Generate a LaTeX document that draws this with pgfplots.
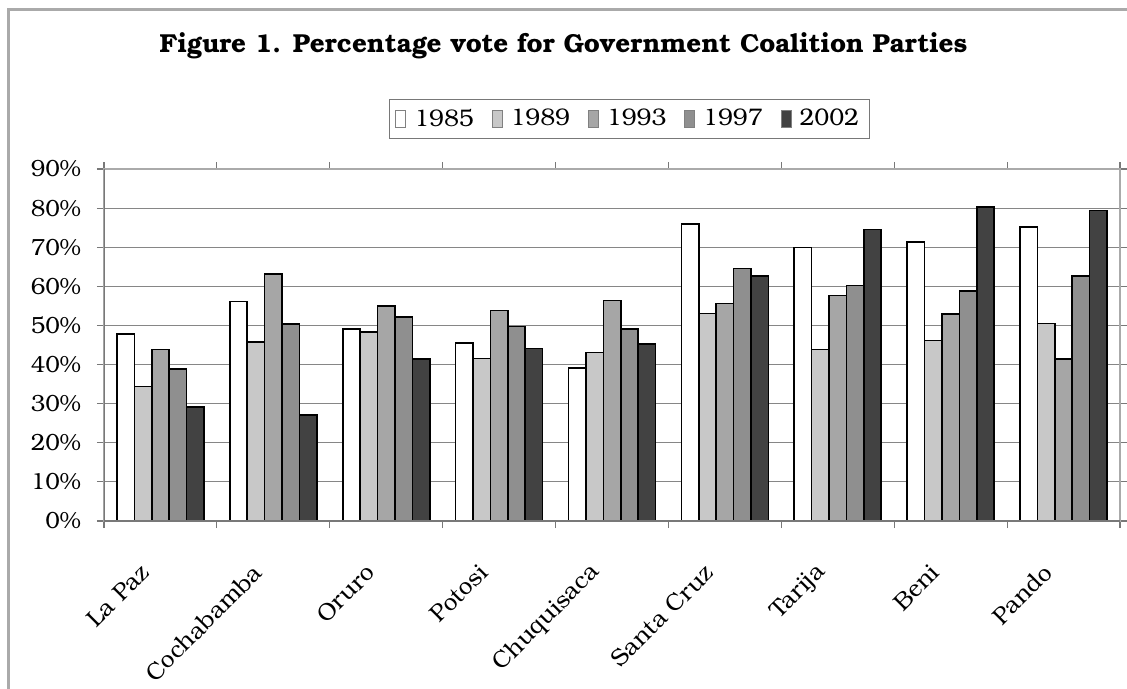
\documentclass[border=0pt]{standalone}
\usepackage{fontspec}
\setmainfont{TeX Gyre Bonum}
\usepackage{pgfplots}
\pgfplotsset{compat=1.18}
\usepackage{pgfplotstable}

\definecolor{cA}{RGB}{255,255,255}
\definecolor{cB}{RGB}{200,200,200}
\definecolor{cC}{RGB}{166,166,166}
\definecolor{cD}{RGB}{143,143,143}
\definecolor{cE}{RGB}{66,66,66}
\definecolor{gridgray}{RGB}{134,134,134}
\definecolor{axisgray}{RGB}{120,120,120}
\definecolor{framegray}{RGB}{170,170,170}

% Share of the vote for the governing coalition, by department and election
\pgfplotstableread{
dept v1985 v1989 v1993 v1997 v2002
0 47.8 34.4 43.9 38.8 29.2
1 56.1 45.8 63.2 50.3 27.1
2 49.1 48.4 55.0 52.1 41.4
3 45.5 41.5 53.8 49.7 44.1
4 39.1 43.1 56.4 49.1 45.3
5 75.9 53.1 55.6 64.6 62.7
6 69.9 43.9 57.7 60.2 74.5
7 71.3 46.2 52.9 58.8 80.3
8 75.2 50.5 41.4 62.7 79.4
}\votes

\begin{document}
\begin{tikzpicture}
% page area; the plot box has its lower left corner at the origin
\useasboundingbox (-52pt,-84pt) rectangle (511.5pt,260.5pt);
% outer chart frame
\draw[framegray, line width=1.2pt] (-47.7pt,-84pt) -- (-47.7pt,255.8pt) -- (511.5pt,255.8pt);
\node[font=\bfseries\fontsize{13}{15}\selectfont] at (229.7pt,237.5pt)
  {Figure 1. Percentage vote for Government Coalition Parties};

\begin{axis}[
  scale only axis, width=508pt, height=176pt,
  ybar=0pt, bar width=8.7pt,
  xmin=-0.5, xmax=8.5, ymin=0, ymax=90,
  xtick={0,...,8},
  xticklabels={La Paz,Cochabamba,Oruro,Potosi,Chuquisaca,Santa Cruz,Tarija,Beni,Pando},
  minor xtick={-0.5,0.5,...,8.5},
  major x tick style={draw=none},
  ytick={0,10,...,90},
  yticklabels={0\%,10\%,20\%,30\%,40\%,50\%,60\%,70\%,80\%,90\%},
  tick align=outside,
  major tick length=3.5pt, minor tick length=3.5pt,
  tick style={axisgray, line width=0.6pt},
  yticklabel style={font=\fontsize{11.7}{13}\selectfont, xshift=-4.5pt},
  xticklabel style={font=\fontsize{12}{14}\selectfont, xshift=-7pt, yshift=-19.5pt,
    rotate=45, anchor=east, inner sep=1pt},
  ymajorgrids,
  major grid style={gridgray, line width=0.6pt},
  axis line style={framegray, line width=0.8pt},
  legend columns=5,
  legend style={at={(0.517,1.142)}, anchor=center, draw=axisgray,
    line width=0.5pt, font=\fontsize{12}{14}\selectfont,
    inner xsep=3pt, inner ysep=2.5pt,
    /tikz/every odd column/.append style={column sep=2pt},
    /tikz/every even column/.append style={column sep=7pt}},
  legend image code/.code={\draw[#1, draw=gray, line width=0.4pt] (0pt,-4.2pt) rectangle (5pt,4.2pt);},
]
\addplot[fill=cA, draw=black, line width=0.8pt] table[x=dept,y=v1985]{\votes};
\addplot[fill=cB, draw=black, line width=0.8pt] table[x=dept,y=v1989]{\votes};
\addplot[fill=cC, draw=black, line width=0.8pt] table[x=dept,y=v1993]{\votes};
\addplot[fill=cD, draw=black, line width=0.8pt] table[x=dept,y=v1997]{\votes};
\addplot[fill=cE, draw=black, line width=0.8pt] table[x=dept,y=v2002]{\votes};
\legend{1985,1989,1993,1997,2002}
\draw[axisgray, line width=0.8pt] (rel axis cs:0,1) -- (rel axis cs:0,0) -- (rel axis cs:1,0);
\end{axis}
\end{tikzpicture}
\end{document}
